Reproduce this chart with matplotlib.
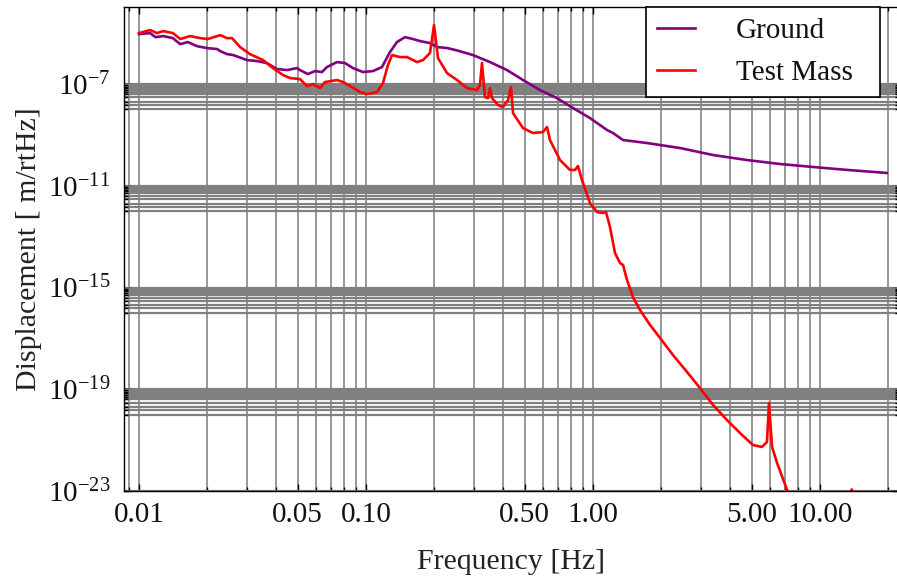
import matplotlib
matplotlib.use("Agg")
import matplotlib.pyplot as plt
from matplotlib.ticker import FixedLocator, FixedFormatter, NullFormatter
import numpy as np

plt.rcParams['font.family'] = ['Liberation Serif', 'DejaVu Serif']
plt.rcParams['mathtext.fontset'] = 'custom'
plt.rcParams['mathtext.rm'] = 'Liberation Serif'
plt.rcParams['mathtext.it'] = 'Liberation Serif:italic'
plt.rcParams['mathtext.default'] = 'regular'

# ---- data ----
ground_f = [0.0100, 0.0112, 0.0118, 0.0128, 0.0141, 0.0152, 0.0164, 0.0180, 0.0199, 0.0221,
            0.0228, 0.0244, 0.0260, 0.0299, 0.0331, 0.0366, 0.0405, 0.0449, 0.0497, 0.0512,
            0.0555, 0.0596, 0.0640, 0.0673, 0.0745, 0.0808, 0.0876, 0.0970, 0.1073, 0.1176,
            0.1275, 0.1370, 0.1485, 0.161, 0.173, 0.191, 0.206, 0.228, 0.252, 0.296,
            0.352, 0.418, 0.492, 0.584, 0.694, 0.817, 0.970, 1.153, 1.225, 1.356,
            1.73, 2.42, 3.38, 4.77, 6.66, 9.3, 13.2, 19.7]
ground_d = [9.2e-6, 1.01e-5, 7.0e-6, 7.7e-6, 6.4e-6, 3.7e-6, 4.5e-6, 3.1e-6, 2.6e-6, 2.38e-6,
            1.98e-6, 1.51e-6, 1.38e-6, 8.8e-7, 8.0e-7, 6.7e-7, 3.9e-7, 3.55e-7, 4.25e-7, 3.55e-7,
            2.47e-7, 3.24e-7, 2.97e-7, 4.66e-7, 7.3e-7, 6.7e-7, 4.25e-7, 2.97e-7, 3.24e-7, 4.66e-7,
            1.81e-6, 4.5e-6, 7.0e-6, 5.9e-6, 4.9e-6, 4.1e-6, 2.85e-6, 2.6e-6, 2.1e-6, 1.38e-6,
            7.3e-7, 3.55e-7, 1.44e-7, 5.8e-8, 2.8e-8, 1.14e-8, 4.6e-9, 1.56e-9, 1.19e-9, 6.3e-10,
            4.8e-10, 3.05e-10, 1.62e-10, 1.03e-10, 7.2e-11, 5.5e-11, 4.2e-11, 3.2e-11]

mass_f = [0.0100, 0.0112, 0.0120, 0.0128, 0.0141, 0.0152, 0.0168, 0.0186, 0.0201, 0.0228,
          0.0244, 0.0257, 0.0279, 0.0308, 0.0352, 0.0389, 0.0431, 0.0463, 0.0512, 0.0550,
          0.0584, 0.0627, 0.0660, 0.0745, 0.0792, 0.0868, 0.0941, 0.1010, 0.1118, 0.1188,
          0.1250, 0.1302, 0.1411, 0.1516, 0.1678, 0.1783, 0.1914, 0.1994, 0.2076, 0.2275,
          0.2518, 0.2786, 0.3083, 0.3178, 0.3243, 0.3343, 0.3446, 0.3518, 0.359, 0.3815,
          0.4013, 0.4224, 0.4354, 0.4443, 0.4916, 0.5443, 0.6022, 0.6272, 0.6465, 0.7156,
          0.792, 0.8333, 0.859, 0.894, 0.970, 1.041, 1.107, 1.141, 1.188, 1.250,
          1.315, 1.356, 1.412, 1.50, 1.611, 1.783, 1.974, 2.25, 2.595, 2.96,
          3.38, 3.89, 4.44, 5.07, 5.55, 5.84, 5.96, 6.15, 6.47, 7.16,
          7.53, 10.0, 13.4, 13.8, 14.2, 20.0, 25.0]
mass_d = [1.01e-5, 1.33e-5, 1.01e-5, 1.21e-5, 1.01e-5, 5.9e-6, 7.7e-6, 6.4e-6, 5.9e-6, 8.4e-6,
          6.4e-6, 6.4e-6, 2.85e-6, 1.51e-6, 8.8e-7, 4.25e-7, 2.26e-7, 1.72e-7, 1.57e-7, 8.3e-8,
          1.0e-7, 6.96e-8, 1.2e-7, 1.44e-7, 1.2e-7, 7.6e-8, 4.85e-8, 4.05e-8, 4.85e-8, 1.09e-7,
          5.6e-7, 1.38e-6, 1.15e-6, 1.15e-6, 7.3e-7, 8.8e-7, 1.66e-6, 2.08e-5, 1.05e-6, 2.7e-7,
          1.44e-7, 6.96e-8, 5.8e-8, 9.1e-8, 6.7e-7, 3.08e-8, 2.8e-8, 6.96e-8, 2.8e-8, 1.5e-8,
          1.25e-8, 2.35e-8, 7.6e-8, 7.2e-9, 1.86e-9, 1.19e-9, 1.3e-9, 2.04e-9, 6.3e-10, 1.03e-10,
          4.2e-11, 4.2e-11, 6.0e-11, 1.68e-11, 2.1e-12, 9.3e-13, 8.5e-13, 9.3e-13, 2.4e-13, 2.28e-14,
          9.2e-15, 7.7e-15, 1.98e-15, 4.2e-16, 1.31e-16, 3.4e-17, 1.04e-17, 2.23e-18, 4.8e-19, 1.12e-19,
          2.41e-20, 6.2e-21, 1.91e-21, 6.4e-22, 5.4e-22, 8.5e-22, 2.9e-20, 5.4e-22, 1.26e-22, 1.1e-23,
          1.8e-24, 1e-25, 5e-24, 1.15e-23, 5e-24, 1e-25, 1e-26]

series_names = ["Ground", "Test Mass"]
series_colors = ["#800080", "#ff0000"]

x_ticks = [0.01, 0.05, 0.1, 0.5, 1, 5, 10]
x_tick_labels = ["0.01", "0.05", "0.10", "0.50", "1.00", "5.00", "10.00"]
y_exponents = [-23, -19, -15, -11, -7]

# ---- figure ----
fig = plt.figure(figsize=(8.97, 5.81), dpi=100)
ax = fig.add_axes([124/897, 1 - 491/581, 775/897, 484/581])

ax.set_xscale('log')
ax.set_yscale('log')
ax.set_xlim(10**-2.066, 10**1.348)
ax.set_ylim(1e-23, 10**-3.97)

# x ticks / grid
x_minor = [k * 10.0**e for e in range(-3, 2) for k in range(1, 10)]
ax.xaxis.set_major_locator(FixedLocator(x_ticks))
ax.xaxis.set_major_formatter(FixedFormatter(x_tick_labels))
ax.xaxis.set_minor_locator(FixedLocator(x_minor))
ax.xaxis.set_minor_formatter(NullFormatter())

# y ticks / grid
y_major = [10.0**e for e in y_exponents]
y_minor = [k * 10.0**(e - 1) for e in y_exponents[1:] for k in [1, 1.5, 2, 3, 4, 5, 6, 7, 8, 9]]
ax.yaxis.set_major_locator(FixedLocator(y_major))
ax.yaxis.set_major_formatter(FixedFormatter([r'$10^{%d}$' % e for e in y_exponents]))
ax.yaxis.set_minor_locator(FixedLocator(y_minor))
ax.yaxis.set_minor_formatter(NullFormatter())

ax.grid(True, which='both', axis='x', color='#858585', linewidth=1.2)
ax.grid(True, which='both', axis='y', color='#808080', linewidth=1.6)
ax.set_axisbelow(True)

ax.tick_params(which='both', direction='in', top=True, right=True, colors='black',
               labelsize=21, labelcolor='#111111')
ax.tick_params(which='major', length=5, width=1)
ax.tick_params(which='minor', length=3, width=1)
ax.tick_params(axis='x', pad=8)
ax.tick_params(axis='y', pad=10)

for s in ax.spines.values():
    s.set_color('black')
    s.set_linewidth(1.0)

ax.plot(ground_f, ground_d, color=series_colors[0], lw=1.9, label=series_names[0],
        solid_joinstyle='round')
ax.plot(mass_f, mass_d, color=series_colors[1], lw=1.9, label=series_names[1],
        solid_joinstyle='round')

x0 = (646 - 124) / 775
w = (880 - 646) / 775
leg = ax.legend(loc='upper left', bbox_to_anchor=(x0, 0.0, w, 1.0), mode='expand',
                borderaxespad=0, fontsize=21, frameon=True, fancybox=False,
                edgecolor='black', framealpha=1.0, handlelength=1.3, handletextpad=1.4,
                labelspacing=0.52, borderpad=0.38)
leg.get_frame().set_linewidth(1.2)
for t in leg.get_texts():
    t.set_color('#111111')

ax.set_xlabel('Frequency [Hz]', fontsize=21.5, color='#222222', labelpad=15)
ax.set_ylabel('Displacement [ m/rtHz]', fontsize=21.5, color='#222222', labelpad=4)

fig.savefig('out.png', dpi=100)
